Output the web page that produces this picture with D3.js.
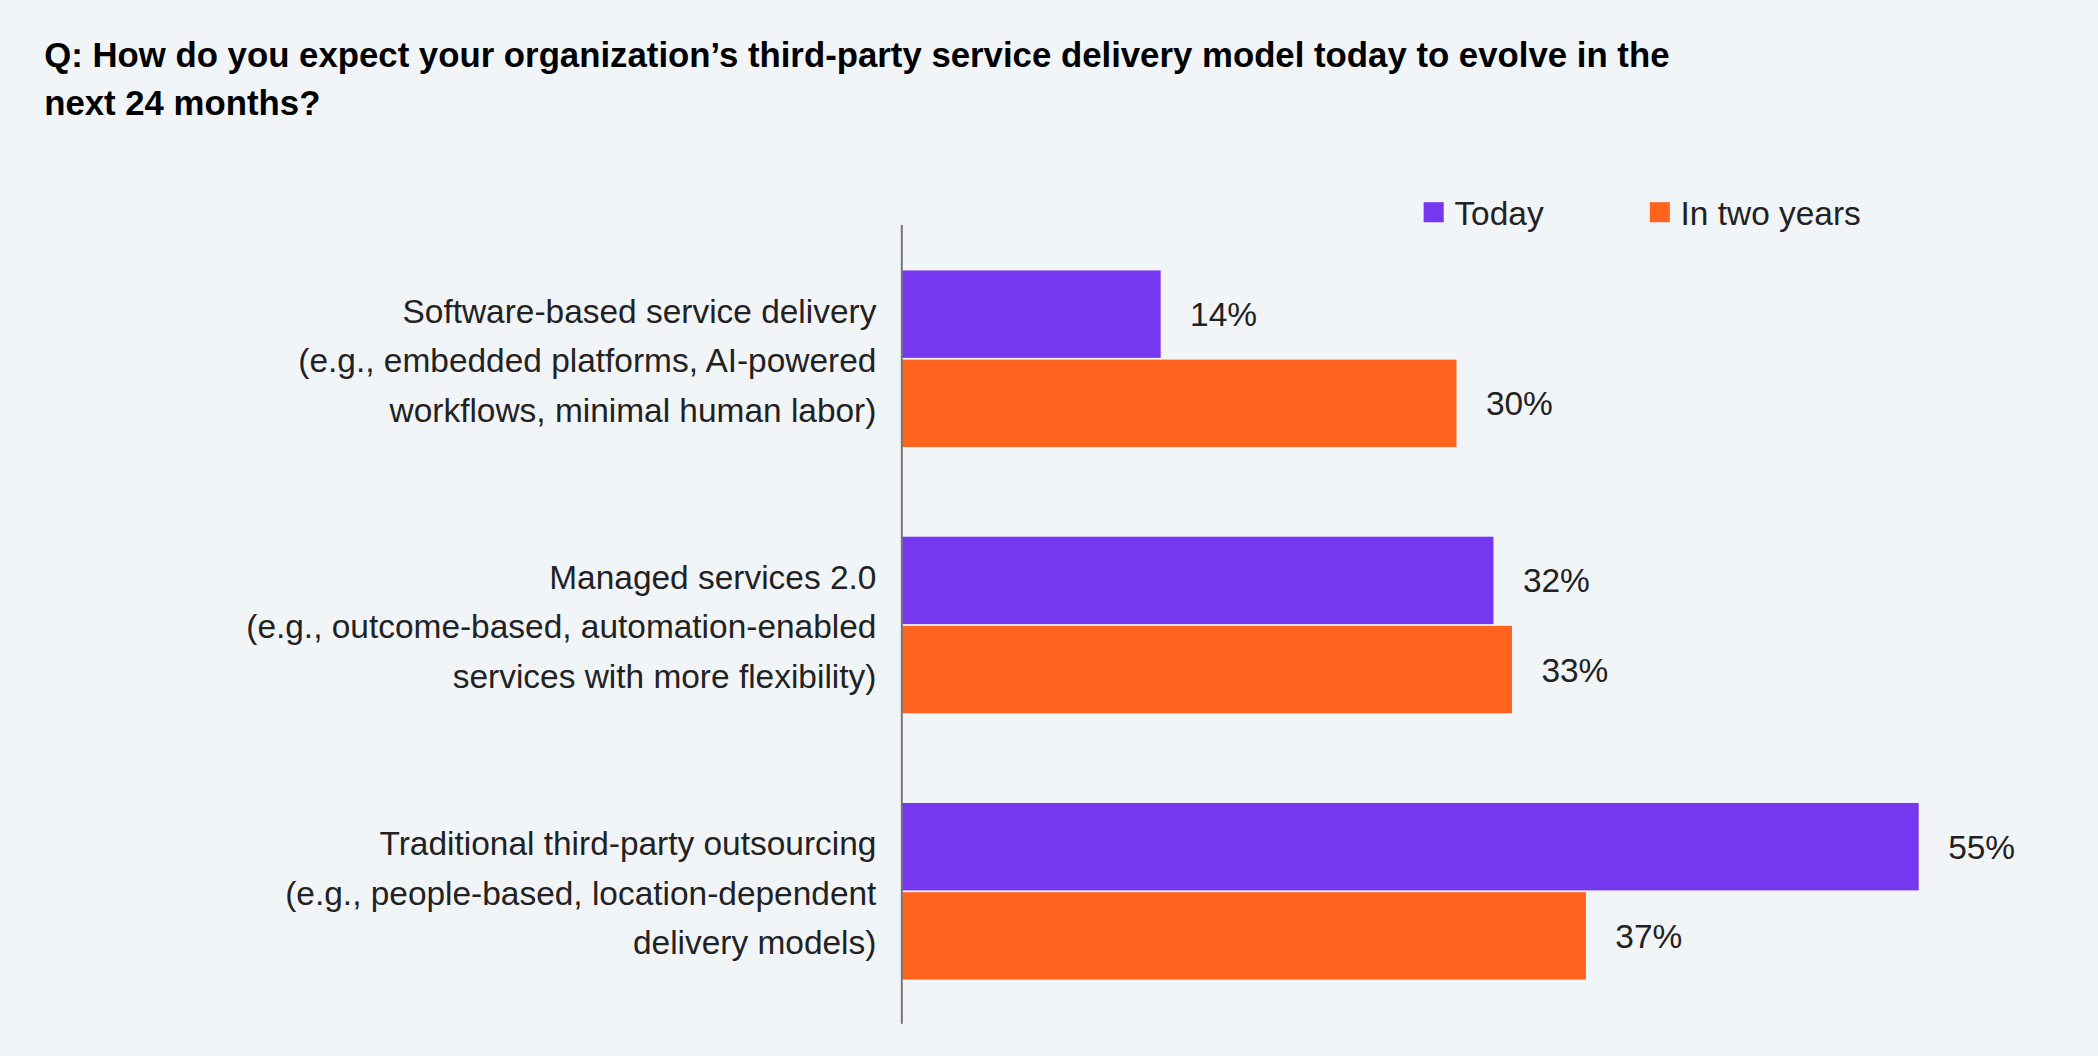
<!DOCTYPE html>
<html><head><meta charset="utf-8">
<script src="https://cdn.jsdelivr.net/npm/d3@7"></script>
<style>html,body{margin:0;padding:0;background:#f2f5f8;overflow:hidden}</style>
</head><body>
<svg id="c" width="2098" height="1056" viewBox="0 0 1568 789"></svg>
<script>
const categories = [
  ["Software-based service delivery","(e.g., embedded platforms, AI-powered","workflows, minimal human labor)"],
  ["Managed services 2.0","(e.g., outcome-based, automation-enabled","services with more flexibility)"],
  ["Traditional third-party outsourcing","(e.g., people-based, location-dependent","delivery models)"]
];
const seriesNames = ["Today","In two years"];
const today = [14,32,55];
const inTwoYears = [30,33,37];
const colors = ["#7537f0","#ff631e"];
const titleLines = ["Q: How do you expect your organization\u2019s third-party service delivery model today to evolve in the","next 24 months?"];

const svg = d3.select("#c");
svg.append("rect").attr("width",1568).attr("height",789).attr("fill","#f2f5f8");
const font = "'Liberation Sans', Arial, sans-serif";
svg.selectAll(".t").data(titleLines).join("text")
  .attr("x",33).attr("y",(d,i)=>50+i*36).attr("font-family",font).attr("font-weight","bold")
  .attr("font-size",26).attr("fill","#000").text(d=>d);

const x = d3.scaleLinear().domain([0,55]).range([674,1434]);
const y = d3.scaleBand().domain(d3.range(3)).range([202,797]).paddingInner(0);
const sub = d3.scaleBand().domain([0,1]).range([0,132]).paddingInner(0.02);
const data = [today, inTwoYears];

categories.forEach((cat,i)=>{
  const g = svg.append("g");
  const y0 = 202 + i*199;
  data.forEach((s,j)=>{
    g.append("rect").attr("x",x(0)).attr("y",y0+sub(j)).attr("width",x(s[i])-x(0))
      .attr("height",sub.bandwidth()).attr("fill",colors[j]);
    g.append("text").attr("x",x(s[i])+22).attr("y",y0+sub(j)+sub.bandwidth()/2+9)
      .attr("font-family",font).attr("font-size",25).attr("fill","#222").text(s[i]+"%");
  });
  cat.forEach((l,k)=>{
    g.append("text").attr("x",655).attr("y",y0+39+k*37).attr("text-anchor","end")
      .attr("font-family",font).attr("font-size",25).attr("fill","#222").text(l);
  });
});
svg.append("line").attr("x1",674).attr("x2",674).attr("y1",168).attr("y2",765)
  .attr("stroke","#777").attr("stroke-width",1.5);

const legX = [1064,1233];
seriesNames.forEach((n,j)=>{
  svg.append("rect").attr("x",legX[j]).attr("y",151).attr("width",15).attr("height",15).attr("fill",colors[j]);
  svg.append("text").attr("x",legX[j]+23).attr("y",168).attr("font-family",font).attr("font-size",25)
    .attr("fill","#222").text(n);
});
</script></body></html>
